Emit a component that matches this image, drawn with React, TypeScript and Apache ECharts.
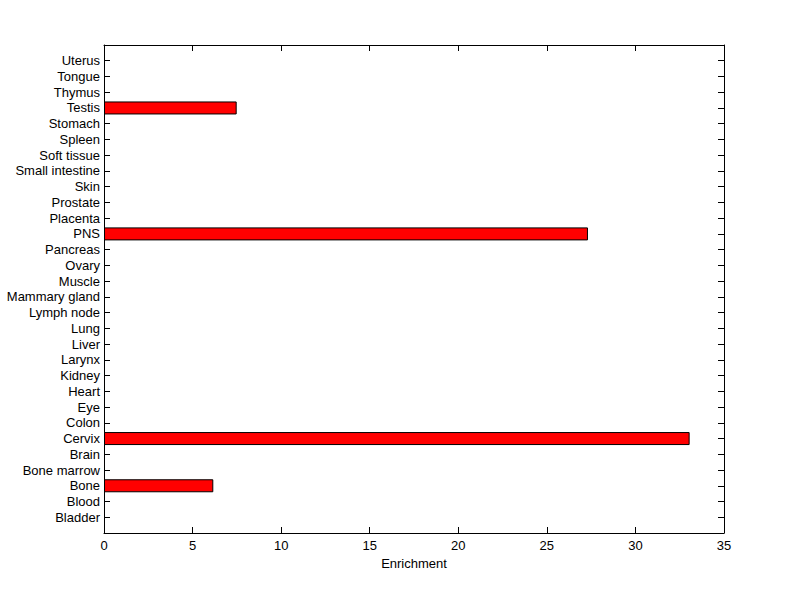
import React, { useEffect, useRef } from "react";
import * as echarts from "echarts";

const tissues = [
  "Bladder", "Blood", "Bone", "Bone marrow", "Brain", "Cervix", "Colon", "Eye", "Heart", "Kidney",
  "Larynx", "Liver", "Lung", "Lymph node", "Mammary gland", "Muscle", "Ovary", "Pancreas", "PNS",
  "Placenta", "Prostate", "Skin", "Small intestine", "Soft tissue", "Spleen", "Stomach", "Testis",
  "Thymus", "Tongue", "Uterus",
];
const enrichment = [
  0, 0, 6.17, 0, 0, 33.06, 0, 0, 0, 0,
  0, 0, 0, 0, 0, 0, 0, 0, 27.32,
  0, 0, 0, 0, 0, 0, 0, 7.49,
  0, 0, 0,
];
const xTicks = [0, 5, 10, 15, 20, 25, 30, 35];

export default function App() {
  const ref = useRef<HTMLDivElement>(null);
  useEffect(() => {
    if (!ref.current) return;
    const chart = echarts.init(ref.current, null, { renderer: "svg" });
    const cats = ["", ...tissues, ""];
    const data = ["-", ...enrichment.map((v) => (v > 0 ? v : "-")), "-"];
    const font = { fontFamily: "Liberation Sans, Arial, sans-serif", fontSize: 13, color: "#000" };
    const line = { show: true, onZero: false, lineStyle: { color: "#000", width: 1 } };
    const tick = { show: true, inside: true, length: 6, lineStyle: { color: "#000", width: 1 } };
    chart.setOption({
      animation: false,
      backgroundColor: "#fff",
      grid: { left: 104, right: 76, top: 45, bottom: 66, containLabel: false },
      xAxis: [
        {
          type: "value",
          min: xTicks[0],
          max: xTicks[xTicks.length - 1],
          interval: 5,
          position: "bottom",
          name: "Enrichment",
          nameLocation: "middle",
          nameGap: 22,
          nameTextStyle: font,
          axisLine: line,
          axisTick: tick,
          axisLabel: { ...font, margin: 6 },
          splitLine: { show: false },
        },
        {
          type: "value",
          min: xTicks[0],
          max: xTicks[xTicks.length - 1],
          interval: 5,
          position: "top",
          axisLine: line,
          axisTick: tick,
          axisLabel: { show: false },
          splitLine: { show: false },
        },
      ],
      yAxis: [
        {
          type: "category",
          data: cats,
          boundaryGap: false,
          position: "left",
          axisLine: line,
          axisTick: { ...tick, interval: 0 },
          axisLabel: { ...font, interval: 0, margin: 4 },
          splitLine: { show: false },
        },
        {
          type: "category",
          data: cats,
          boundaryGap: false,
          position: "right",
          axisLine: line,
          axisTick: { ...tick, interval: 0 },
          axisLabel: { show: false },
          splitLine: { show: false },
        },
      ],
      series: [
        {
          type: "bar",
          xAxisIndex: 0,
          yAxisIndex: 0,
          data,
          barWidth: 13,
          itemStyle: { color: "#ff0000", borderColor: "#000", borderWidth: 1 },
        },
      ],
    });
    return () => chart.dispose();
  }, []);
  return <div ref={ref} style={{ width: 800, height: 599, position: "absolute", left: 0, top: 0 }} />;
}
